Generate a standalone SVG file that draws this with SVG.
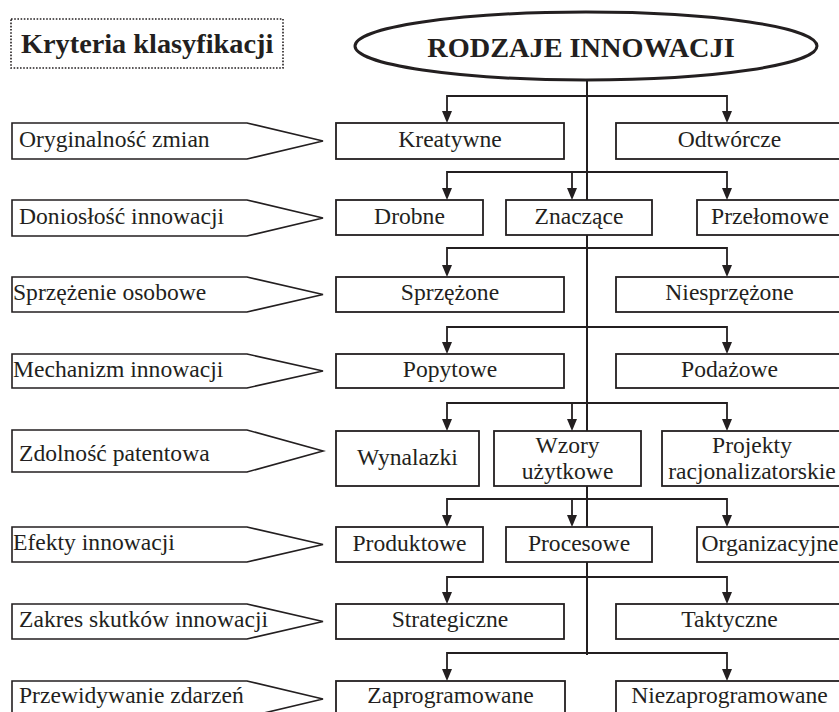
<svg xmlns="http://www.w3.org/2000/svg" xmlns:xlink="http://www.w3.org/1999/xlink" width="839" height="712" viewBox="0 0 839 712">
  <style>
    .box { fill: #ffffff; stroke: #231f20; stroke-width: 1.8; }
    .crit { fill: #ffffff; stroke: #231f20; stroke-width: 1.6; }
    .wire { fill: none; stroke: #231f20; stroke-width: 1.8; }
  </style>
  <defs>
    <!-- downward arrowhead, tip at origin -->
    <path id="ah" d="M-5,-12 L5,-12 L0,0 Z" fill="#231f20"/>
  </defs>

  <rect width="839" height="712" fill="#ffffff"/>

  <g font-family="Liberation Serif, serif" font-size="23.6" fill="#231f20">

  <!-- header: criteria caption -->
  <g id="criteria-title">
    <rect x="11" y="19" width="272" height="49" fill="none" stroke="#231f20" stroke-width="1.6" stroke-dasharray="1.6 1.6"/>
    <text x="21" y="53" font-size="28.3" font-weight="bold">Kryteria klasyfikacji</text>
  </g>

  <!-- connectors -->
  <g id="connectors">
    <g class="wire">
      <line x1="587" y1="79" x2="587" y2="655" stroke-width="2"/>
      <polyline points="447,112 447,96 727,96 727,112"/>
      <polyline points="447,189 447,172 727,172 727,189"/>
      <line x1="572" y1="172" x2="572" y2="189"/>
      <polyline points="447,266 447,248 727,248 727,266"/>
      <polyline points="447,343 447,327 727,327 727,343"/>
      <polyline points="447,420 447,403 727,403 727,420"/>
      <line x1="572" y1="403" x2="572" y2="420"/>
      <polyline points="447,516 447,499 727,499 727,516"/>
      <line x1="572" y1="499" x2="572" y2="516"/>
      <polyline points="447,593 447,577 727,577 727,593"/>
      <polyline points="447,670 447,653 727,653 727,670"/>
    </g>
    <use xlink:href="#ah" x="447" y="123"/><use xlink:href="#ah" x="727" y="123"/>
    <use xlink:href="#ah" x="447" y="200"/><use xlink:href="#ah" x="572" y="200"/><use xlink:href="#ah" x="727" y="200"/>
    <use xlink:href="#ah" x="447" y="277"/><use xlink:href="#ah" x="727" y="277"/>
    <use xlink:href="#ah" x="447" y="354"/><use xlink:href="#ah" x="727" y="354"/>
    <use xlink:href="#ah" x="447" y="431"/><use xlink:href="#ah" x="572" y="431"/><use xlink:href="#ah" x="727" y="431"/>
    <use xlink:href="#ah" x="447" y="527"/><use xlink:href="#ah" x="572" y="527"/><use xlink:href="#ah" x="727" y="527"/>
    <use xlink:href="#ah" x="447" y="604"/><use xlink:href="#ah" x="727" y="604"/>
    <use xlink:href="#ah" x="447" y="681"/><use xlink:href="#ah" x="727" y="681"/>
  </g>

  <g id="root">
    <ellipse cx="586" cy="46" rx="231" ry="34" fill="#ffffff" stroke="#231f20" stroke-width="3"/>
    <text x="581" y="57" font-size="28.3" font-weight="bold" text-anchor="middle">RODZAJE INNOWACJI</text>
  </g>

  <!-- classification criteria (left column) -->
  <g id="crit-1"><polygon class="crit" points="12,123 247,123 323,141 247,159 12,159"/><text x="19" y="147">Oryginalność zmian</text></g>
  <g id="crit-2"><polygon class="crit" points="12,200 247,200 323,218 247,236 12,236"/><text x="19" y="224">Doniosłość innowacji</text></g>
  <g id="crit-3"><polygon class="crit" points="12,277 247,277 323,294.5 247,312 12,312"/><text x="13" y="300">Sprzężenie osobowe</text></g>
  <g id="crit-4"><polygon class="crit" points="12,354 247,354 323,371 247,388 12,388"/><text x="13" y="377">Mechanizm innowacji</text></g>
  <g id="crit-5"><polygon class="crit" points="12,430 247,430 323,451 247,472 12,472"/><text x="19" y="461">Zdolność patentowa</text></g>
  <g id="crit-6"><polygon class="crit" points="12,527 247,527 323,544.5 247,562 12,562"/><text x="13" y="550">Efekty innowacji</text></g>
  <g id="crit-7"><polygon class="crit" points="12,604 247,604 323,621.5 247,639 12,639"/><text x="19" y="627">Zakres skutków innowacji</text></g>
  <g id="crit-8"><polygon class="crit" points="12,681 247,681 323,699 247,717 12,717"/><text x="19" y="703">Przewidywanie zdarzeń</text></g>

  <!-- innovation types -->
  <g text-anchor="middle">
  <g id="kreatywne"><rect class="box" x="336" y="123" width="228" height="36"/><text x="450" y="147">Kreatywne</text></g>
  <g id="odtworcze"><rect class="box" x="616" y="123" width="227" height="36"/><text x="729.5" y="147">Odtwórcze</text></g>

  <g id="drobne"><rect class="box" x="336" y="200" width="147" height="35"/><text x="409.5" y="224">Drobne</text></g>
  <g id="znaczace"><rect class="box" x="506" y="200" width="146" height="35"/><text x="579" y="224">Znaczące</text></g>
  <g id="przelomowe"><rect class="box" x="697" y="200" width="146" height="35"/><text x="770" y="224">Przełomowe</text></g>

  <g id="sprzezone"><rect class="box" x="336" y="277" width="228" height="35"/><text x="450" y="300">Sprzężone</text></g>
  <g id="niesprzezone"><rect class="box" x="616" y="277" width="227" height="35"/><text x="729.5" y="300">Niesprzężone</text></g>

  <g id="popytowe"><rect class="box" x="336" y="354" width="228" height="34"/><text x="450" y="377">Popytowe</text></g>
  <g id="podazowe"><rect class="box" x="616" y="354" width="227" height="34"/><text x="729.5" y="377">Podażowe</text></g>

  <g id="wynalazki"><rect class="box" x="336" y="431" width="143" height="55"/><text x="407.5" y="465">Wynalazki</text></g>
  <g id="wzory"><rect class="box" x="494" y="431" width="147" height="55"/><text x="567.5" y="453">Wzory</text><text x="567.5" y="479">użytkowe</text></g>
  <g id="projekty"><rect class="box" x="662" y="431" width="181" height="55"/><text x="752" y="453">Projekty</text><text x="752" y="479">racjonalizatorskie</text></g>

  <g id="produktowe"><rect class="box" x="336" y="527" width="147" height="35"/><text x="409.5" y="551">Produktowe</text></g>
  <g id="procesowe"><rect class="box" x="506" y="527" width="146" height="35"/><text x="579" y="551">Procesowe</text></g>
  <g id="organizacyjne"><rect class="box" x="697" y="527" width="146" height="35"/><text x="770" y="551">Organizacyjne</text></g>

  <g id="strategiczne"><rect class="box" x="336" y="604" width="228" height="35"/><text x="450" y="627">Strategiczne</text></g>
  <g id="taktyczne"><rect class="box" x="616" y="604" width="227" height="35"/><text x="729.5" y="627">Taktyczne</text></g>

  <g id="zaprogramowane"><rect class="box" x="336" y="681" width="229" height="36"/><text x="450.5" y="703">Zaprogramowane</text></g>
  <g id="niezaprogramowane"><rect class="box" x="616" y="681" width="227" height="36"/><text x="729.5" y="703">Niezaprogramowane</text></g>
  </g>

  </g>
</svg>
